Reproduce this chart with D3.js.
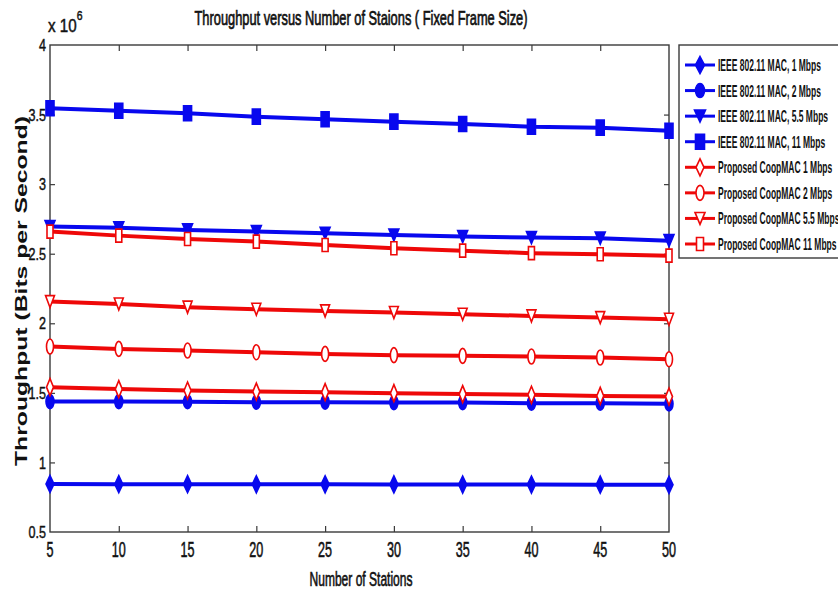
<!DOCTYPE html>
<html>
<head>
<meta charset="utf-8">
<script src="https://cdn.jsdelivr.net/npm/d3@7"></script>
<style>
  html, body { margin: 0; padding: 0; background: #fff; }
  svg { display: block; }
  .lbl { font-family: "Liberation Sans", Arial, sans-serif; fill: #111; stroke: #111; stroke-width: 0.4; }
</style>
</head>
<body>
<svg id="chart" width="838" height="593"></svg>
<script>
// Number of stations on the x axis
const stations = [5, 10, 15, 20, 25, 30, 35, 40, 45, 50];

// Throughput in units of 10^6 bits per second
const ieee1  = [0.845, 0.844, 0.844, 0.843, 0.843, 0.842, 0.841, 0.841, 0.840, 0.839];
const ieee2  = [1.437, 1.437, 1.436, 1.433, 1.433, 1.430, 1.430, 1.426, 1.426, 1.421];
const ieee55 = [2.695, 2.687, 2.671, 2.659, 2.647, 2.635, 2.623, 2.616, 2.612, 2.594];
const ieee11 = [3.545, 3.528, 3.509, 3.485, 3.466, 3.449, 3.432, 3.413, 3.406, 3.384];
const coop1  = [1.541, 1.527, 1.517, 1.509, 1.505, 1.498, 1.491, 1.486, 1.478, 1.473];
const coop2  = [1.833, 1.816, 1.804, 1.792, 1.780, 1.771, 1.766, 1.761, 1.754, 1.742];
const coop55 = [2.156, 2.139, 2.116, 2.101, 2.089, 2.077, 2.065, 2.053, 2.041, 2.029];
const coop11 = [2.659, 2.630, 2.606, 2.587, 2.563, 2.539, 2.522, 2.504, 2.496, 2.486];

const seriesNames = [
  "IEEE 802.11 MAC, 1 Mbps",
  "IEEE 802.11 MAC, 2 Mbps",
  "IEEE 802.11 MAC, 5.5 Mbps",
  "IEEE 802.11 MAC, 11 Mbps",
  "Proposed CoopMAC 1 Mbps",
  "Proposed CoopMAC 2 Mbps",
  "Proposed CoopMAC 5.5 Mbps",
  "Proposed CoopMAC 11 Mbps"
];

const xTicks = [5, 10, 15, 20, 25, 30, 35, 40, 45, 50];
const yTicks = [0.5, 1, 1.5, 2, 2.5, 3, 3.5, 4];

const titleText = "Throughput versus Number of Staions ( Fixed Frame Size)";
const xLabelText = "Number of Stations";
const yLabelText = "Throughput (Bits per Second)";

// Visual styling per series: colour, marker shape, marker box (w x h), fill
const BLUE = "#0808ee", RED = "#ee0808";
const styles = [
  { color: BLUE, shape: "diamond",  w: 8,  h: 17, fill: BLUE },
  { color: BLUE, shape: "circle",   w: 8,  h: 14, fill: BLUE },
  { color: BLUE, shape: "triangle", w: 10, h: 12, fill: BLUE },
  { color: BLUE, shape: "square",   w: 8,  h: 15, fill: BLUE },
  { color: RED,  shape: "diamond",  w: 7,  h: 17, fill: "#fff" },
  { color: RED,  shape: "circle",   w: 7,  h: 15, fill: "#fff" },
  { color: RED,  shape: "triangle", w: 9,  h: 12, fill: "#fff" },
  { color: RED,  shape: "square",   w: 6,  h: 13, fill: "#fff" }
];

const allSeries = [ieee1, ieee2, ieee55, ieee11, coop1, coop2, coop55, coop11].map((vals, i) => ({
  name: seriesNames[i],
  values: vals.map((v, j) => ({ x: stations[j], y: v })),
  style: styles[i]
}));

const svg = d3.select("#chart");
const plot = { left: 50, right: 669, top: 45, bottom: 532 };

const x = d3.scaleLinear().domain([5, 50]).range([plot.left, plot.right]);
const y = d3.scaleLinear().domain([0.5, 4]).range([plot.bottom, plot.top]);

// Horizontal squeeze factor that brings a sample string to a target width
function squeezeFor(sample, target, attrs) {
  const t = svg.append("text").attr("class", "lbl").text(sample);
  Object.entries(attrs).forEach(([k, v]) => t.attr(k, v));
  const w = t.node().getComputedTextLength();
  t.remove();
  return w > 0 ? target / w : 1;
}

// Marker outlines centred on the data point
function markerPath(shape, w, h) {
  const a = w / 2, b = h / 2;
  switch (shape) {
    case "diamond":  return `M0,${-b}L${a},0L0,${b}L${-a},0Z`;
    case "triangle": return `M${-a},${-b}L${a},${-b}L0,${b}Z`;
    case "square":   return `M${-a},${-b}L${a},${-b}L${a},${b}L${-a},${b}Z`;
    case "circle":
    default:
      return `M${-a},0A${a},${b} 0 1,0 ${a},0A${a},${b} 0 1,0 ${-a},0Z`;
  }
}

// Box and inward ticks
const axisColor = "#3a3a3a";
svg.append("rect")
  .attr("x", plot.left).attr("y", plot.top)
  .attr("width", plot.right - plot.left).attr("height", plot.bottom - plot.top)
  .attr("fill", "#fff").attr("stroke", axisColor).attr("stroke-width", 1.4);

function styleAxis(g) {
  g.select(".domain").remove();
  g.selectAll(".tick line").attr("stroke", axisColor).attr("stroke-width", 1.2);
  g.selectAll(".tick text").remove();
}
svg.append("g").attr("transform", `translate(${plot.left},0)`)
  .call(d3.axisLeft(y).tickValues(yTicks.slice(1, -1)).tickSize(-5)).call(styleAxis);
svg.append("g").attr("transform", `translate(${plot.right},0)`)
  .call(d3.axisRight(y).tickValues(yTicks.slice(1, -1)).tickSize(-5)).call(styleAxis);
svg.append("g").attr("transform", `translate(0,${plot.bottom})`)
  .call(d3.axisBottom(x).tickValues(xTicks.slice(1, -1)).tickSize(-6)).call(styleAxis);
svg.append("g").attr("transform", `translate(0,${plot.top})`)
  .call(d3.axisTop(x).tickValues(xTicks.slice(1, -1)).tickSize(-6)).call(styleAxis);

// Tick labels (tall, condensed look)
const tickFont = 15.5;
const tickSx = squeezeFor("50", 14, { "font-size": tickFont });

svg.append("g").selectAll("text").data(yTicks).join("text")
  .attr("class", "lbl")
  .attr("transform", d => `translate(46,${y(d)}) scale(${tickSx},1.1)`)
  .attr("text-anchor", "end").attr("dy", "0.36em")
  .attr("font-size", tickFont)
  .text(d => d3.format("")(d));

svg.append("g").selectAll("text").data(xTicks).join("text")
  .attr("class", "lbl")
  .attr("transform", d => `translate(${x(d)},557) scale(${tickSx},1.38)`)
  .attr("text-anchor", "middle")
  .attr("font-size", tickFont)
  .text(d => d);

// Exponent marker
const expo = svg.append("text").attr("class", "lbl")
  .attr("transform", "translate(48,32) scale(0.95,1.2)")
  .attr("font-size", 16);
expo.append("tspan").text("x 10");
expo.append("tspan").attr("dy", -10).attr("font-size", 11).text("6");

// Title and axis labels
svg.append("text").attr("class", "lbl")
  .attr("transform", "translate(361,25) scale(1,1.35)")
  .attr("text-anchor", "middle").attr("font-size", 15.5)
  .style("stroke-width", 0.55)
  .attr("textLength", 333).attr("lengthAdjust", "spacingAndGlyphs")
  .text(titleText);

svg.append("text").attr("class", "lbl")
  .attr("transform", "translate(361,586) scale(1,1.3)")
  .attr("text-anchor", "middle").attr("font-size", 15.5)
  .style("stroke-width", 0.5)
  .attr("textLength", 103).attr("lengthAdjust", "spacingAndGlyphs")
  .text(xLabelText);

svg.append("text")
  .attr("transform", "translate(27,291) rotate(-90)")
  .attr("text-anchor", "middle")
  .attr("font-family", "'Liberation Sans', Arial, sans-serif")
  .attr("font-weight", "bold").attr("font-size", 16).attr("fill", "#111")
  .attr("textLength", 350).attr("lengthAdjust", "spacingAndGlyphs")
  .text(yLabelText);

// Series lines and markers
const line = d3.line().x(d => x(d.x)).y(d => y(d.y));
const gSeries = svg.append("g");
allSeries.forEach(s => {
  const g = gSeries.append("g");
  g.append("path").datum(s.values)
    .attr("d", line).attr("fill", "none")
    .attr("stroke", s.style.color).attr("stroke-width", 4);
  g.selectAll("path.mk").data(s.values).join("path")
    .attr("class", "mk")
    .attr("transform", d => `translate(${x(d.x)},${y(d.y)})`)
    .attr("d", markerPath(s.style.shape, s.style.w, s.style.h))
    .attr("fill", s.style.fill)
    .attr("stroke", s.style.color).attr("stroke-width", 1.6);
});

// Legend
const legendFont = 11;
const legendSx = squeezeFor(seriesNames[0], 103, { "font-size": legendFont, "font-weight": "bold" });
const legend = svg.append("g");
legend.append("rect")
  .attr("x", 679).attr("y", 45).attr("width", 200).attr("height", 213)
  .attr("fill", "#fff").attr("stroke", axisColor).attr("stroke-width", 1.4);
const rowY = d3.scalePoint().domain(seriesNames).range([65, 244]);
allSeries.forEach(s => {
  const cy = rowY(s.name);
  legend.append("line")
    .attr("x1", 685).attr("x2", 715).attr("y1", cy).attr("y2", cy)
    .attr("stroke", s.style.color).attr("stroke-width", 3);
  legend.append("path")
    .attr("transform", `translate(700,${cy})`)
    .attr("d", markerPath(s.style.shape, s.style.w + 1, s.style.h))
    .attr("fill", s.style.fill)
    .attr("stroke", s.style.color).attr("stroke-width", 1.6);
  legend.append("text").attr("class", "lbl")
    .attr("transform", `translate(718,${cy}) scale(${legendSx},1.55)`)
    .attr("dy", "0.35em")
    .attr("font-size", legendFont).attr("font-weight", "bold")
    .style("stroke-width", 0)
    .text(s.name);
});
</script>
</body>
</html>
